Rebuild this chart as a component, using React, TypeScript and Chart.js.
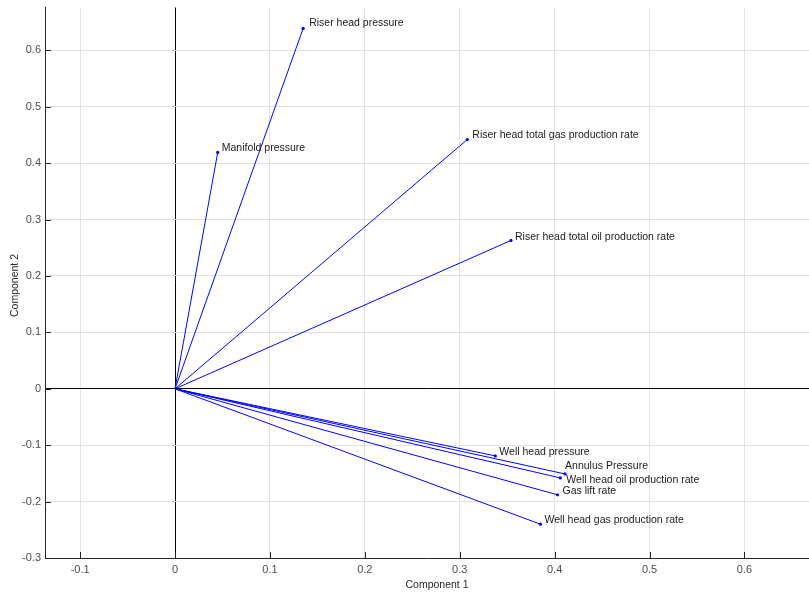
import React, { useEffect, useRef } from "react";
import { Chart, registerables } from "chart.js";

Chart.register(...registerables);

const variableNames = [
  "Riser head pressure",
  "Manifold pressure",
  "Riser head total gas production rate",
  "Riser head total oil production rate",
  "Well head pressure",
  "Annulus Pressure",
  "Well head oil production rate",
  "Gas lift rate",
  "Well head gas production rate",
];
const component1 = [0.135, 0.045, 0.308, 0.354, 0.3375, 0.411, 0.406, 0.403, 0.385];
const component2 = [0.639, 0.419, 0.442, 0.263, -0.119, -0.151, -0.158, -0.188, -0.240];

const xTickValues = [-0.1, 0, 0.1, 0.2, 0.3, 0.4, 0.5, 0.6];
const yTickValues = [-0.3, -0.2, -0.1, 0, 0.1, 0.2, 0.3, 0.4, 0.5, 0.6];
const xTitle = "Component 1";
const yTitle = "Component 2";

// label offsets in pixels (style only)
const labelOffsets: [number, number][] = [
  [6, -5], [4, -4], [5, -4], [4, -3], [4, -4], [0, -8], [6, 2], [5, -4], [4, -4],
];

const FONT = "'Liberation Sans', Arial, Helvetica, sans-serif";

export default function App() {
  const ref = useRef<HTMLCanvasElement | null>(null);
  useEffect(() => {
    if (!ref.current) return;
    const datasets = variableNames.map((name, i) => ({
      label: name,
      data: [
        { x: 0, y: 0 },
        { x: component1[i], y: component2[i] },
      ],
      borderColor: "rgb(0,0,255)",
      backgroundColor: "rgb(0,0,255)",
      borderWidth: 1,
      showLine: true,
      pointRadius: [0, 1.6],
      pointBorderWidth: 0,
    }));

    const labelPlugin = {
      id: "labels",
      afterDatasetsDraw(chart: any) {
        const { ctx, scales } = chart;
        ctx.save();
        ctx.font = `10.5px ${FONT}`;
        ctx.fillStyle = "#1a1a1a";
        ctx.textAlign = "left";
        ctx.textBaseline = "middle";
        variableNames.forEach((name, i) => {
          const px = scales.x.getPixelForValue(component1[i]);
          const py = scales.y.getPixelForValue(component2[i]);
          ctx.fillText(name, px + labelOffsets[i][0], py + labelOffsets[i][1]);
        });
        ctx.restore();
      },
      afterDraw(chart: any) {
        const { ctx, scales, chartArea } = chart;
        ctx.save();
        ctx.strokeStyle = "#262626";
        ctx.lineWidth = 1;
        const len = 6;
        ctx.beginPath();
        xTickValues.forEach((v) => {
          const px = Math.round(scales.x.getPixelForValue(v)) + 0.5;
          ctx.moveTo(px, chartArea.bottom);
          ctx.lineTo(px, chartArea.bottom - len);
        });
        yTickValues.forEach((v) => {
          const py = Math.round(scales.y.getPixelForValue(v)) + 0.5;
          ctx.moveTo(chartArea.left, py);
          ctx.lineTo(chartArea.left + len, py);
        });
        ctx.stroke();
        // axis titles
        ctx.fillStyle = "#262626";
        ctx.font = `10.5px ${FONT}`;
        ctx.textAlign = "center";
        ctx.textBaseline = "middle";
        ctx.fillText(xTitle, chartArea.left + 392, 585);
        ctx.translate(15, chartArea.top + 278);
        ctx.rotate(-Math.PI / 2);
        ctx.fillText(yTitle, 0, 0);
        ctx.restore();
      },
    };

    const gridColor = (c: any) =>
      c.tick && Math.abs(c.tick.value) < 1e-9 ? "#000000" : "#e3e3e3";

    const chart = new Chart(ref.current, {
      type: "scatter",
      data: { datasets },
      plugins: [labelPlugin],
      options: {
        animation: false,
        responsive: false,
        layout: { autoPadding: false, padding: { top: 7.5, right: 0, left: 0, bottom: 0 } },
        plugins: { legend: { display: false }, tooltip: { enabled: false } },
        scales: {
          x: {
            type: "linear",
            min: -0.137,
            max: 0.668,
            afterBuildTicks: (s: any) => {
              s.ticks = xTickValues.map((v) => ({ value: v }));
            },
            afterFit: (s: any) => {
              s.height = 36;
              s.paddingLeft = 0;
              s.paddingRight = 0;
            },
            ticks: {
              color: "#4d4d4d",
              font: { family: FONT, size: 11 },
              padding: 5,
              maxRotation: 0,
              callback: (v: any) => String(Math.round(Number(v) * 10) / 10),
            },
            grid: { color: gridColor, drawTicks: false, lineWidth: 1 },
            border: { display: true, color: "#262626", width: 1 },
            title: { display: false },
          },
          y: {
            type: "linear",
            min: -0.3,
            max: 0.676,
            afterBuildTicks: (s: any) => {
              s.ticks = yTickValues.map((v) => ({ value: v }));
            },
            afterFit: (s: any) => {
              s.width = 45;
              s.paddingTop = 0;
              s.paddingBottom = 0;
            },
            ticks: {
              color: "#4d4d4d",
              font: { family: FONT, size: 11 },
              padding: 4,
              callback: (v: any) => String(Math.round(Number(v) * 10) / 10),
            },
            grid: { color: gridColor, drawTicks: false, lineWidth: 1 },
            border: { display: true, color: "#262626", width: 1 },
            title: { display: false },
          },
        },
      },
    } as any);
    return () => chart.destroy();
  }, []);

  return (
    <div style={{ position: "fixed", left: 0, top: 0, width: 809, height: 594, background: "#fff" }}>
      <canvas ref={ref} width={809} height={594} style={{ width: 809, height: 594 }} />
    </div>
  );
}
